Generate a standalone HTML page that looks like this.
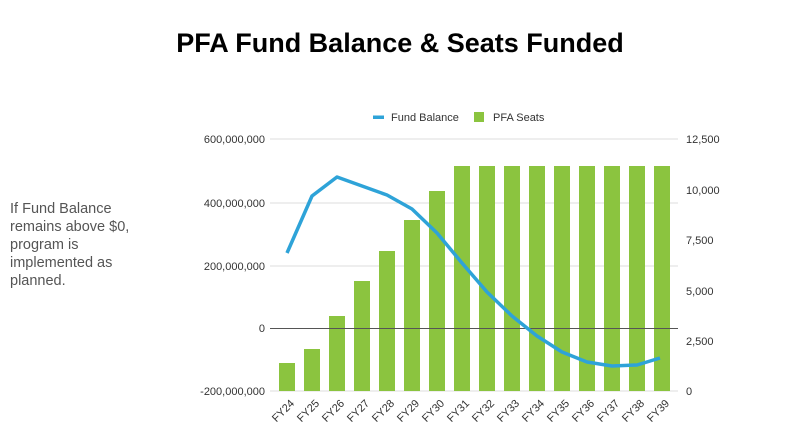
<!DOCTYPE html>
<html><head><style>
body{margin:0;width:800px;height:426px;background:#fff;font-family:"Liberation Sans",sans-serif;overflow:hidden;position:relative}
.t{position:absolute;top:28px;left:0;width:800px;text-align:center;font-size:27px;font-weight:bold;color:#000}
.s{position:absolute;left:10px;top:200px;font-size:14.5px;line-height:18px;color:#555}
</style></head><body>
<div class="t">PFA Fund Balance &amp; Seats Funded</div>
<div class="s">If Fund Balance<br>remains above $0,<br>program is<br>implemented as<br>planned.</div>
<svg width="800" height="426" style="position:absolute;left:0;top:0" font-family="Liberation Sans, sans-serif">
<g stroke="#ddd" stroke-width="1">
<line x1="270" x2="678" y1="139" y2="139"/><line x1="270" x2="678" y1="203" y2="203"/><line x1="270" x2="678" y1="266" y2="266"/><line x1="270" x2="678" y1="391" y2="391"/>
</g>
<g fill="#8bc43f">
<rect x="279" y="363" width="16" height="28"/><rect x="304" y="349" width="16" height="42"/><rect x="329" y="316" width="16" height="75"/><rect x="354" y="281" width="16" height="110"/><rect x="379" y="251" width="16" height="140"/><rect x="404" y="220" width="16" height="171"/><rect x="429" y="191" width="16" height="200"/>
<rect x="454" y="166" width="16" height="225"/><rect x="479" y="166" width="16" height="225"/><rect x="504" y="166" width="16" height="225"/><rect x="529" y="166" width="16" height="225"/><rect x="554" y="166" width="16" height="225"/><rect x="579" y="166" width="16" height="225"/><rect x="604" y="166" width="16" height="225"/><rect x="629" y="166" width="16" height="225"/><rect x="654" y="166" width="16" height="225"/>
</g>
<line x1="270" x2="678" y1="328.5" y2="328.5" stroke="#555" stroke-width="1"/>
<polyline fill="none" stroke="#2ea3d8" stroke-width="3.5" stroke-linejoin="round" points="287,253 312,196 337,177 362,186 387,195 412,209 437,233 462,263 487,292 512,316 537,336 562,352 587,362 612,366 637,365 660,358"/>
<g font-size="11" fill="#333" text-anchor="end">
<text x="265" y="143">600,000,000</text><text x="265" y="207">400,000,000</text><text x="265" y="270">200,000,000</text><text x="265" y="332">0</text><text x="265" y="395">-200,000,000</text>
</g>
<g font-size="11" fill="#333">
<text x="686" y="143">12,500</text><text x="686" y="194">10,000</text><text x="686" y="244">7,500</text><text x="686" y="295">5,000</text><text x="686" y="345">2,500</text><text x="686" y="395">0</text>
</g>
<g font-size="11" fill="#333" text-anchor="end">
<text transform="translate(295,404) rotate(-45)">FY24</text><text transform="translate(320,404) rotate(-45)">FY25</text><text transform="translate(345,404) rotate(-45)">FY26</text><text transform="translate(370,404) rotate(-45)">FY27</text><text transform="translate(395,404) rotate(-45)">FY28</text><text transform="translate(420,404) rotate(-45)">FY29</text><text transform="translate(445,404) rotate(-45)">FY30</text><text transform="translate(470,404) rotate(-45)">FY31</text><text transform="translate(495,404) rotate(-45)">FY32</text><text transform="translate(520,404) rotate(-45)">FY33</text><text transform="translate(545,404) rotate(-45)">FY34</text><text transform="translate(570,404) rotate(-45)">FY35</text><text transform="translate(595,404) rotate(-45)">FY36</text><text transform="translate(620,404) rotate(-45)">FY37</text><text transform="translate(645,404) rotate(-45)">FY38</text><text transform="translate(670,404) rotate(-45)">FY39</text>
</g>
<rect x="373" y="115.5" width="11" height="3.5" fill="#2ea3d8"/>
<text x="391" y="121" font-size="11" fill="#333">Fund Balance</text>
<rect x="474" y="112" width="10" height="10" fill="#8bc43f"/>
<text x="493" y="121" font-size="11" fill="#333">PFA Seats</text>
</svg>
</body></html>
